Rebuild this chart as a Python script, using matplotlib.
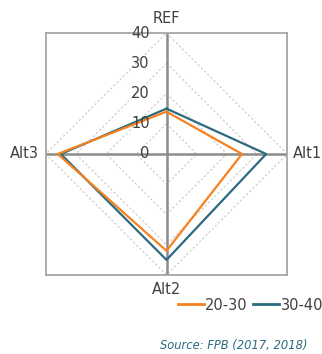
import numpy as np
import matplotlib
matplotlib.use('Agg')
import matplotlib.pyplot as plt
from matplotlib.lines import Line2D

# axes in drawing order: top, right, bottom, left
axes_names = ['REF', 'Alt1', 'Alt2', 'Alt3']
series_names = ['20-30', '30-40']
vals_2030 = [14, 25, 32, 36]
vals_3040 = [15, 33, 35, 35]
rings = [10, 20, 30, 40]
tick_labels = ['0', '10', '20', '30', '40']

ORANGE = '#f7811e'
TEAL = '#2b6a80'
GRID = '#8c8c8c'
TXT = '#404040'

# direction of each spoke (x, y)
dirs = [(0, 1), (1, 0), (0, -1), (-1, 0)]


def to_xy(values):
    xs = [d[0] * v for d, v in zip(dirs, values)]
    ys = [d[1] * v for d, v in zip(dirs, values)]
    return xs + xs[:1], ys + ys[:1]


fig = plt.figure(figsize=(3.22, 3.54), dpi=100)
ax = fig.add_axes([45.7 / 322, 79 / 354, 241.6 / 322, 242 / 354])
ax.set_xlim(-40, 40)
ax.set_ylim(-40, 40)
ax.set_xticks([])
ax.set_yticks([])
for s in ax.spines.values():
    s.set_color('#a6a6a6')
    s.set_linewidth(1.3)

# dotted diamond rings
for r in rings:
    xs, ys = to_xy([r] * 4)
    ax.plot(xs, ys, color='#c8c8c8', lw=0.8, ls=(0, (2, 2)), zorder=1)

# cross axes
ax.axhline(0, color=GRID, lw=1.8, zorder=2)
ax.axvline(0, color=GRID, lw=1.8, zorder=2)

xs, ys = to_xy(vals_2030)
ax.plot(xs, ys, color=ORANGE, lw=1.6, zorder=4)
xs, ys = to_xy(vals_3040)
ax.plot(xs, ys, color=TEAL, lw=1.6, zorder=3)

# scale labels along vertical axis
for i, t in enumerate(tick_labels):
    ax.annotate(t, (0, i * 10), xytext=(-12, 0), textcoords='offset points',
                ha='right', va='center', fontsize=10.5, color=TXT, zorder=5,
                annotation_clip=False)

# spoke labels
ax.annotate(axes_names[0], (0, 40), xytext=(0, 5), textcoords='offset points',
            ha='center', va='bottom', fontsize=10.5, color=TXT, annotation_clip=False)
ax.annotate(axes_names[1], (40, 0), xytext=(4, 0), textcoords='offset points',
            ha='left', va='center', fontsize=10.5, color=TXT, annotation_clip=False)
ax.annotate(axes_names[2], (0, -40), xytext=(0, -5), textcoords='offset points',
            ha='center', va='top', fontsize=10.5, color=TXT, annotation_clip=False)
ax.annotate(axes_names[3], (-40, 0), xytext=(-5, 0), textcoords='offset points',
            ha='right', va='center', fontsize=10.5, color=TXT, annotation_clip=False)

handles = [Line2D([], [], color=ORANGE, lw=2), Line2D([], [], color=TEAL, lw=2)]
leg = fig.legend(handles, series_names, loc='center right',
                 bbox_to_anchor=(1.022, 1 - 305 / 354), ncol=2, frameon=False,
                 fontsize=10.5, handlelength=1.8, handletextpad=0.1,
                 columnspacing=0.35, borderaxespad=0)
for t in leg.get_texts():
    t.set_color(TXT)

fig.text(308 / 322, 1 - 345 / 354, 'Source: FPB (2017, 2018)', ha='right',
         va='center', fontsize=8.3, style='italic', color=TEAL)

fig.savefig('out.png', dpi=100)
